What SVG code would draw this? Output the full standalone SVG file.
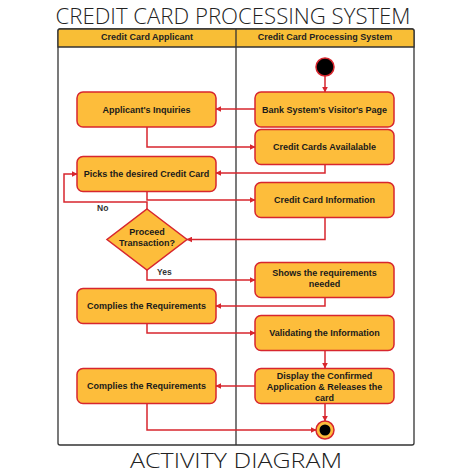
<svg xmlns="http://www.w3.org/2000/svg" width="474" height="474" viewBox="0 0 474 474">
<defs>
<style>
.title{font-family:"Open Sans","Liberation Sans",sans-serif;font-weight:300;fill:#222;}
.hdr{font-family:"Liberation Sans",Arial,sans-serif;font-weight:bold;font-size:9px;fill:#222;text-anchor:middle;}
.node rect{fill:#FDBD3B;stroke:#D7262E;stroke-width:1.5;}
.node polygon{fill:#FDBD3B;stroke:#D7262E;stroke-width:1.5;}
.lbl{font-family:"Liberation Sans",Arial,sans-serif;font-weight:bold;font-size:9px;fill:#1a1a1a;text-anchor:middle;}
.edge{fill:none;stroke:#D7262E;stroke-width:1.5;marker-end:url(#ah);}
.elbl{font-family:"Liberation Sans",Arial,sans-serif;font-weight:bold;font-size:8.5px;fill:#333;}
</style>
<marker id="ah" viewBox="0 0 10 10" refX="9" refY="5" markerWidth="6" markerHeight="6" orient="auto" markerUnits="userSpaceOnUse">
<path d="M0,0 L10,5 L0,10 z" fill="#D7262E"/>
</marker>
</defs>
<rect width="474" height="474" fill="#fff"/>
<text class="title" x="233" y="23.5" font-size="22" text-anchor="middle" textLength="355" lengthAdjust="spacingAndGlyphs">CREDIT CARD PROCESSING SYSTEM</text>
<g id="swimlanes">
<rect x="58" y="29" width="356" height="416" rx="2" fill="#fff" stroke="#333" stroke-width="1.3"/>
<path d="M60,29 H412 Q414,29 414,31 V47 H58 V31 Q58,29 60,29 z" fill="#F8BE36" stroke="#333" stroke-width="1.3"/>
<line x1="236" y1="29" x2="236" y2="445" stroke="#333" stroke-width="1.3"/>
<text class="hdr" x="147" y="40">Credit Card Applicant</text>
<text class="hdr" x="325" y="40">Credit Card Processing System</text>
</g>
<g id="connectors">
<path class="edge" d="M325,76 V92"/>
<path class="edge" d="M255,109 H216"/>
<path class="edge" d="M147,127 V147 H255"/>
<path class="edge" d="M325,165 V173 H216"/>
<path class="edge" d="M147,192 V200 H255"/>
<path class="edge" d="M325,218 V239.5 H187"/>
<path class="edge" d="M147,209 V202 H64 V174 H77"/>
<path class="edge" d="M147,270 V280 H255"/>
<path class="edge" d="M325,298 V306 H216"/>
<path class="edge" d="M147,324 V333 H255"/>
<path class="edge" d="M325,351 V368"/>
<path class="edge" d="M255,386 H216"/>
<path class="edge" d="M325,404 V421"/>
<path class="edge" d="M147,404 V430 H316"/>
<text class="elbl" x="97" y="211">No</text>
<text class="elbl" x="157" y="275">Yes</text>
</g>
<g id="start"><circle cx="325" cy="67" r="9" fill="#000" stroke="#D7262E" stroke-width="1.5"/></g>
<g id="bank" class="node"><rect x="255" y="92" width="139" height="35" rx="6"/><text class="lbl" x="324.5" y="112.5">Bank System's Visitor's Page</text></g>
<g id="inquiries" class="node"><rect x="77" y="92" width="139" height="35" rx="6"/><text class="lbl" x="146.5" y="112.5">Applicant's Inquiries</text></g>
<g id="available" class="node"><rect x="255" y="129.5" width="139" height="35" rx="6"/><text class="lbl" x="324.5" y="150">Credit Cards Availalable</text></g>
<g id="picks" class="node"><rect x="77" y="156.5" width="139" height="35" rx="6"/><text class="lbl" x="146.5" y="177">Picks the desired Credit Card</text></g>
<g id="info" class="node"><rect x="255" y="182.5" width="139" height="35" rx="6"/><text class="lbl" x="324.5" y="203">Credit Card Information</text></g>
<g id="decision" class="node"><polygon points="147,209 187,239.5 147,270 107,239.5"/><text class="lbl" x="147" y="235">Proceed</text><text class="lbl" x="147" y="246">Transaction?</text></g>
<g id="shows" class="node"><rect x="255" y="262.5" width="139" height="35" rx="6"/><text class="lbl" x="324.5" y="276">Shows the requirements</text><text class="lbl" x="324.5" y="287">needed</text></g>
<g id="complies1" class="node"><rect x="77" y="288.5" width="139" height="35" rx="6"/><text class="lbl" x="146.5" y="309">Complies the Requirements</text></g>
<g id="validating" class="node"><rect x="255" y="315.5" width="139" height="35" rx="6"/><text class="lbl" x="324.5" y="336">Validating the Information</text></g>
<g id="display" class="node"><rect x="255" y="368.5" width="139" height="35" rx="6"/><text class="lbl" x="324.5" y="379">Display the Confirmed</text><text class="lbl" x="324.5" y="390">Application &amp; Releases the</text><text class="lbl" x="324.5" y="400.5">card</text></g>
<g id="complies2" class="node"><rect x="77" y="368.5" width="139" height="35" rx="6"/><text class="lbl" x="146.5" y="389">Complies the Requirements</text></g>
<g id="end"><circle cx="325" cy="430" r="9" fill="#FDBD3B" stroke="#D7262E" stroke-width="1.5"/><circle cx="325" cy="430" r="5.5" fill="#000"/></g>
<text class="title" x="236" y="467.5" font-size="21" text-anchor="middle" textLength="212" lengthAdjust="spacingAndGlyphs">ACTIVITY DIAGRAM</text>
</svg>
